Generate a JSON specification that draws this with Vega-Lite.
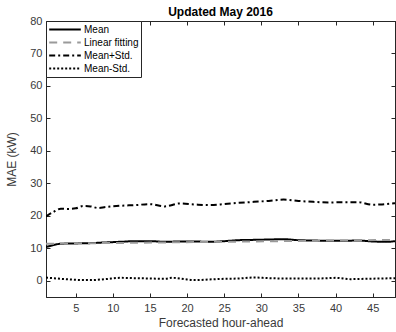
{
  "$schema": "https://vega.github.io/schema/vega-lite/v6.json",
  "width": 349,
  "height": 276,
  "autosize": {"type": "none"},
  "padding": {"left": 46, "top": 21, "right": 1, "bottom": 35},
  "background": "white",
  "title": {"text": "Updated May 2016", "fontSize": 12, "fontWeight": "bold", "font": "Liberation Sans", "color": "black", "offset": -4},
  "config": {
    "view": {"stroke": "#262626", "strokeWidth": 1},
    "axis": {"grid": false, "domainColor": "#262626", "tickColor": "#262626", "labelColor": "#3a3a3a", "titleColor": "#3a3a3a", "labelFont": "Liberation Sans", "titleFont": "Liberation Sans", "labelFontSize": 11, "titleFontSize": 12, "titleFontWeight": "normal", "tickSize": -4, "labelPadding": 9}
  },
  "data": {
    "values": [
      {"hour": 1, "series": "Mean", "mae": 10.4},
      {"hour": 2, "series": "Mean", "mae": 11.0},
      {"hour": 3, "series": "Mean", "mae": 11.4},
      {"hour": 5, "series": "Mean", "mae": 11.5},
      {"hour": 7, "series": "Mean", "mae": 11.6},
      {"hour": 9, "series": "Mean", "mae": 11.8},
      {"hour": 11, "series": "Mean", "mae": 12.0},
      {"hour": 13, "series": "Mean", "mae": 12.2},
      {"hour": 15, "series": "Mean", "mae": 12.2},
      {"hour": 17, "series": "Mean", "mae": 12.0},
      {"hour": 19, "series": "Mean", "mae": 12.1},
      {"hour": 21, "series": "Mean", "mae": 12.1},
      {"hour": 23, "series": "Mean", "mae": 12.0},
      {"hour": 25, "series": "Mean", "mae": 12.2},
      {"hour": 27, "series": "Mean", "mae": 12.5},
      {"hour": 29, "series": "Mean", "mae": 12.6},
      {"hour": 31, "series": "Mean", "mae": 12.7},
      {"hour": 33, "series": "Mean", "mae": 12.8},
      {"hour": 35, "series": "Mean", "mae": 12.5},
      {"hour": 37, "series": "Mean", "mae": 12.4},
      {"hour": 39, "series": "Mean", "mae": 12.3},
      {"hour": 41, "series": "Mean", "mae": 12.3},
      {"hour": 43, "series": "Mean", "mae": 12.4},
      {"hour": 45, "series": "Mean", "mae": 12.1},
      {"hour": 47, "series": "Mean", "mae": 12.0},
      {"hour": 48, "series": "Mean", "mae": 12.2},

      {"hour": 1, "series": "Linear fitting", "mae": 11.4},
      {"hour": 48, "series": "Linear fitting", "mae": 12.6},

      {"hour": 1, "series": "Mean+Std.", "mae": 19.8},
      {"hour": 2, "series": "Mean+Std.", "mae": 21.2},
      {"hour": 3, "series": "Mean+Std.", "mae": 22.2},
      {"hour": 4, "series": "Mean+Std.", "mae": 22.1},
      {"hour": 5, "series": "Mean+Std.", "mae": 22.3},
      {"hour": 6, "series": "Mean+Std.", "mae": 23.0},
      {"hour": 7, "series": "Mean+Std.", "mae": 22.9},
      {"hour": 8, "series": "Mean+Std.", "mae": 22.4},
      {"hour": 9, "series": "Mean+Std.", "mae": 22.7},
      {"hour": 11, "series": "Mean+Std.", "mae": 23.1},
      {"hour": 13, "series": "Mean+Std.", "mae": 23.3},
      {"hour": 15, "series": "Mean+Std.", "mae": 23.6},
      {"hour": 17, "series": "Mean+Std.", "mae": 22.9},
      {"hour": 19, "series": "Mean+Std.", "mae": 23.8},
      {"hour": 21, "series": "Mean+Std.", "mae": 23.5},
      {"hour": 23, "series": "Mean+Std.", "mae": 23.3},
      {"hour": 25, "series": "Mean+Std.", "mae": 23.6},
      {"hour": 27, "series": "Mean+Std.", "mae": 24.0},
      {"hour": 29, "series": "Mean+Std.", "mae": 24.3},
      {"hour": 31, "series": "Mean+Std.", "mae": 24.6},
      {"hour": 33, "series": "Mean+Std.", "mae": 25.0},
      {"hour": 35, "series": "Mean+Std.", "mae": 24.6},
      {"hour": 37, "series": "Mean+Std.", "mae": 24.3},
      {"hour": 39, "series": "Mean+Std.", "mae": 24.1},
      {"hour": 41, "series": "Mean+Std.", "mae": 24.2},
      {"hour": 43, "series": "Mean+Std.", "mae": 24.2},
      {"hour": 45, "series": "Mean+Std.", "mae": 23.4},
      {"hour": 46, "series": "Mean+Std.", "mae": 23.5},
      {"hour": 48, "series": "Mean+Std.", "mae": 23.9},

      {"hour": 1, "series": "Mean-Std.", "mae": 1.0},
      {"hour": 3, "series": "Mean-Std.", "mae": 0.6},
      {"hour": 5, "series": "Mean-Std.", "mae": 0.3},
      {"hour": 7, "series": "Mean-Std.", "mae": 0.2},
      {"hour": 9, "series": "Mean-Std.", "mae": 0.5},
      {"hour": 11, "series": "Mean-Std.", "mae": 0.9},
      {"hour": 13, "series": "Mean-Std.", "mae": 0.8},
      {"hour": 15, "series": "Mean-Std.", "mae": 0.7},
      {"hour": 17, "series": "Mean-Std.", "mae": 0.6},
      {"hour": 18, "series": "Mean-Std.", "mae": 0.9},
      {"hour": 20, "series": "Mean-Std.", "mae": 0.4},
      {"hour": 21, "series": "Mean-Std.", "mae": 0.2},
      {"hour": 23, "series": "Mean-Std.", "mae": 0.4},
      {"hour": 25, "series": "Mean-Std.", "mae": 0.6},
      {"hour": 27, "series": "Mean-Std.", "mae": 0.7},
      {"hour": 29, "series": "Mean-Std.", "mae": 1.0},
      {"hour": 31, "series": "Mean-Std.", "mae": 0.8},
      {"hour": 33, "series": "Mean-Std.", "mae": 0.7},
      {"hour": 35, "series": "Mean-Std.", "mae": 0.7},
      {"hour": 37, "series": "Mean-Std.", "mae": 0.7},
      {"hour": 39, "series": "Mean-Std.", "mae": 0.8},
      {"hour": 40, "series": "Mean-Std.", "mae": 0.9},
      {"hour": 42, "series": "Mean-Std.", "mae": 0.5},
      {"hour": 44, "series": "Mean-Std.", "mae": 0.6},
      {"hour": 46, "series": "Mean-Std.", "mae": 0.7},
      {"hour": 48, "series": "Mean-Std.", "mae": 0.8}
    ]
  },
  "layer": [
    {
      "mark": {"type": "line", "interpolate": "monotone", "strokeWidth": 2, "clip": true},
      "encoding": {
        "x": {"field": "hour", "type": "quantitative", "scale": {"domain": [1, 48], "nice": false, "zero": false},
              "axis": {"orient": "bottom", "values": [5, 10, 15, 20, 25, 30, 35, 40, 45], "title": "Forecasted hour-ahead", "titlePadding": 4}},
        "y": {"field": "mae", "type": "quantitative", "scale": {"domain": [-5, 80], "nice": false, "zero": false},
              "axis": {"orient": "left", "values": [0, 10, 20, 30, 40, 50, 60, 70, 80], "title": "MAE (kW)", "titlePadding": 11, "labelPadding": 8}},
        "color": {"field": "series", "type": "nominal",
                  "scale": {"domain": ["Mean", "Linear fitting", "Mean+Std.", "Mean-Std."], "range": ["#000000", "#9a9a9a", "#000000", "#000000"]},
                  "legend": {"title": null, "orient": "top-left", "offset": 0, "strokeColor": "#262626", "fillColor": "white", "padding": 2,
                             "symbolType": "stroke", "symbolSize": 1000, "symbolStrokeWidth": 2, "clipHeight": 13, "labelFont": "Liberation Sans", "labelFontSize": 10, "labelColor": "black", "rowPadding": 0, "labelOffset": 2}},
        "strokeDash": {"field": "series", "type": "nominal",
                       "scale": {"domain": ["Mean", "Linear fitting", "Mean+Std.", "Mean-Std."], "range": [[1, 0], [8, 6], [6, 3, 2, 3], [2, 2]]},
                       "legend": {"title": null}},
        "order": {"field": "series"}
      }
    },
    {
      "mark": {"type": "line", "opacity": 0},
      "encoding": {
        "x": {"field": "hour", "type": "quantitative", "scale": {"domain": [1, 48], "nice": false, "zero": false},
              "axis": {"orient": "top", "values": [5, 10, 15, 20, 25, 30, 35, 40, 45], "labels": false, "title": null}},
        "y": {"field": "mae", "type": "quantitative", "scale": {"domain": [-5, 80], "nice": false, "zero": false},
              "axis": {"orient": "right", "values": [0, 10, 20, 30, 40, 50, 60, 70, 80], "labels": false, "title": null}}
      }
    }
  ],
  "resolve": {"axis": {"x": "independent", "y": "independent"}}
}
